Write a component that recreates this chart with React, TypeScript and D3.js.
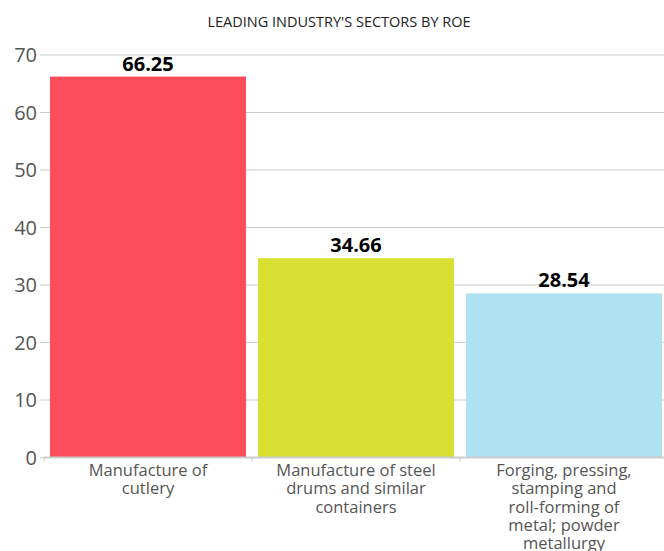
import React from "react";
import * as d3 from "d3";

const title = "LEADING INDUSTRY'S SECTORS BY ROE";
const categories = [
  ["Manufacture of", "cutlery"],
  ["Manufacture of steel", "drums and similar", "containers"],
  ["Forging, pressing,", "stamping and", "roll-forming of", "metal; powder", "metallurgy"],
];
const values = [66.25, 34.66, 28.54];
const labels = ["66.25", "34.66", "28.54"];
const colors = ["#fd4c5c", "#d8e032", "#aee1f2"];
const yTicks = [0, 10, 20, 30, 40, 50, 60, 70];

const W = 664;
const H = 551;
const left = 44;
const right = 668;
const top = 55;
const bottom = 457.5;
const font = "'Open Sans', sans-serif";

export default function App() {
  const x = d3
    .scaleBand<number>()
    .domain(values.map((_, i) => i))
    .range([left, right])
    .paddingInner(0.058)
    .paddingOuter(0.029);
  const band = d3.scaleBand<number>().domain(values.map((_, i) => i)).range([left, right]);
  const y = d3.scaleLinear().domain([0, 70]).range([bottom, top]);

  return (
    <svg
      width={W}
      height={H}
      style={{ position: "absolute", left: 0, top: 0, background: "#fff" }}
      fontFamily={font}
    >
      <text x={339} y={27} textAnchor="middle" fontSize={14.5} fill="#222">
        {title}
      </text>
      {yTicks.map((t) => (
        <g key={t}>
          <line
            x1={left - 4}
            x2={W}
            y1={y(t)}
            y2={y(t)}
            stroke="#cccccc"
            strokeWidth={1}
          />
          <text
            x={37}
            y={y(t) + 7}
            textAnchor="end"
            fontSize={20}
            fill="#555"
          >
            {t}
          </text>
        </g>
      ))}
      {values.map((v, i) => (
        <rect
          key={i}
          x={x(i)}
          y={y(v)}
          width={x.bandwidth()}
          height={bottom - y(v)}
          fill={colors[i]}
        />
      ))}
      <line x1={left} x2={W} y1={bottom} y2={bottom} stroke="#cccccc" strokeWidth={2} />
      {values.map((_, i) => (
        <line
          key={i}
          x1={band(i)}
          x2={band(i)}
          y1={bottom}
          y2={bottom + 4}
          stroke="#cccccc"
          strokeWidth={1}
        />
      ))}
      {values.map((v, i) => (
        <text
          key={i}
          x={(x(i) as number) + x.bandwidth() / 2}
          y={y(v) - 6}
          textAnchor="middle"
          fontSize={20}
          fontWeight="bold"
          fill="#000"
        >
          {labels[i]}
        </text>
      ))}
      {categories.map((lines, i) => (
        <text
          key={i}
          x={(band(i) as number) + band.bandwidth() / 2}
          y={476}
          textAnchor="middle"
          fontSize={16.5}
          fill="#555"
        >
          {lines.map((l, j) => (
            <tspan key={j} x={(band(i) as number) + band.bandwidth() / 2} dy={j === 0 ? 0 : 18.3}>
              {l}
            </tspan>
          ))}
        </text>
      ))}
    </svg>
  );
}
